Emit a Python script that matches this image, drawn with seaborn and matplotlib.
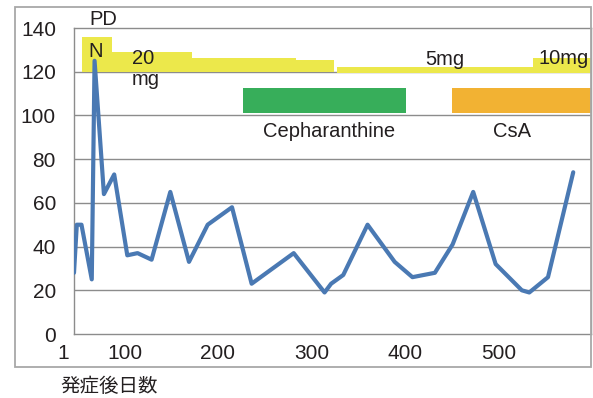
import matplotlib
matplotlib.use("Agg")
import matplotlib.pyplot as plt
from matplotlib.patches import Rectangle
from matplotlib.transforms import blended_transform_factory
import seaborn as sns
import pandas as pd

# Clinical course: value over days after onset
days = [46, 49, 54, 65, 68, 78, 89, 103, 114, 129, 149, 169, 189, 215, 236,
        281, 314, 321, 334, 360, 389, 408, 432, 451, 473, 497, 525, 533, 553, 580]
values = [28, 50, 50, 25, 125, 64, 73, 36, 37, 34, 65, 33, 50, 58, 23,
          37, 19, 23, 27, 50, 33, 26, 28, 41, 65, 32, 20, 19, 26, 74]

# Prednisolone dose bands (start day, end day, lower, upper)
pd_start = [54.5, 86.6, 172.2, 283.4, 327.3, 537.0]
pd_end = [86.6, 172.2, 283.4, 324.0, 537.0, 599.0]
pd_low = [120, 120, 120, 120, 119.2, 119.2]
pd_high = [136, 129, 126.3, 125.3, 122, 126.3]

# Other treatments
tx_names = ["Cepharanthine", "CsA"]
tx_start = [226.7, 450.3]
tx_end = [401.0, 599.0]
tx_low = [101, 101]
tx_high = [112.5, 112.5]
tx_colors = ["#37ae5a", "#f2b233"]

x_ticks = [100, 200, 300, 400, 500]
x_labels = ["100", "200", "300", "400", "500"]
y_ticks = [0, 20, 40, 60, 80, 100, 120, 140]

sns.set_theme(style="white")
plt.rcParams["font.family"] = ["Liberation Sans", "Noto Sans CJK JP", "DejaVu Sans"]

W, H = 593, 398
fig = plt.figure(figsize=(W / 100, H / 100), dpi=100)
ax = fig.add_axes([74 / W, (H - 334) / H, (591 - 74) / W, (334 - 28) / H])

grid_c = "#8c8c8c"
text_c = "#231f20"

# outer frame around the whole chart
fig.patches.append(Rectangle((15 / W, 1 - 367 / H), (591 - 15) / W, (367 - 7) / H,
                             transform=fig.transFigure, fill=False,
                             edgecolor="#a8a8a8", linewidth=1.3))

# dose and treatment bands
ax.bar(pd_start, [h - l for h, l in zip(pd_high, pd_low)],
       width=[e - s for e, s in zip(pd_end, pd_start)], bottom=pd_low,
       align="edge", color="#ece84b", linewidth=0, zorder=2)
ax.bar(tx_start, [h - l for h, l in zip(tx_high, tx_low)],
       width=[e - s for e, s in zip(tx_end, tx_start)], bottom=tx_low,
       align="edge", color=tx_colors, linewidth=0, zorder=2)

df = pd.DataFrame({"day": days, "value": values})
sns.lineplot(data=df, x="day", y="value", ax=ax, color="#4a79b3",
             linewidth=3.0, zorder=3, legend=False)

tick_fs = 15
ax.set_xlim(46, 599)
ax.set_ylim(0, 140)
ax.set_yticks(y_ticks)
ax.set_xticks(x_ticks)
ax.set_xticklabels(x_labels)
ax.tick_params(axis="both", length=0, labelsize=tick_fs, colors=text_c)
ax.tick_params(axis="y", pad=13)
ax.tick_params(axis="x", pad=7)
ax.set_xlabel("")
ax.set_ylabel("")
for y in y_ticks[1:-1]:
    ax.axhline(y, color=grid_c, linewidth=1.0, zorder=1)
for s in ax.spines.values():
    s.set_color(grid_c)
    s.set_linewidth(1.0)
    s.set_visible(True)

# first day label at the left of the axis
trans = blended_transform_factory(ax.transData, ax.transAxes)
ax.text(34.2, -10 / 306, "1", transform=trans, ha="center", va="top",
        fontsize=tick_fs, color=text_c, clip_on=False)

fs = 14.5
ax.text(77, 141.4, "PD", ha="center", va="baseline", fontsize=fs, color=text_c, clip_on=False)
ax.text(69.5, 126.7, "N", ha="center", va="baseline", fontsize=fs, color=text_c)
ax.text(108, 123.5, "20", ha="left", va="baseline", fontsize=fs, color=text_c)
ax.text(108, 113.9, "mg", ha="left", va="baseline", fontsize=fs, color=text_c)
ax.text(443, 123.2, "5mg", ha="center", va="baseline", fontsize=fs, color=text_c)
ax.text(597, 123.5, "10mg", ha="right", va="baseline", fontsize=fs, color=text_c)
tx_label_x = [318.7, 514.4]
for name, lx in zip(tx_names, tx_label_x):
    ax.text(lx, 90.1, name, ha="center", va="baseline", fontsize=fs, color=text_c)

fig.text(109 / W, 1 - 386 / H, "発症後日数", ha="center", va="center",
         fontsize=14, color=text_c, family=["Noto Sans CJK JP", "DejaVu Sans"])

fig.savefig("out.png", dpi=100, facecolor="white")
